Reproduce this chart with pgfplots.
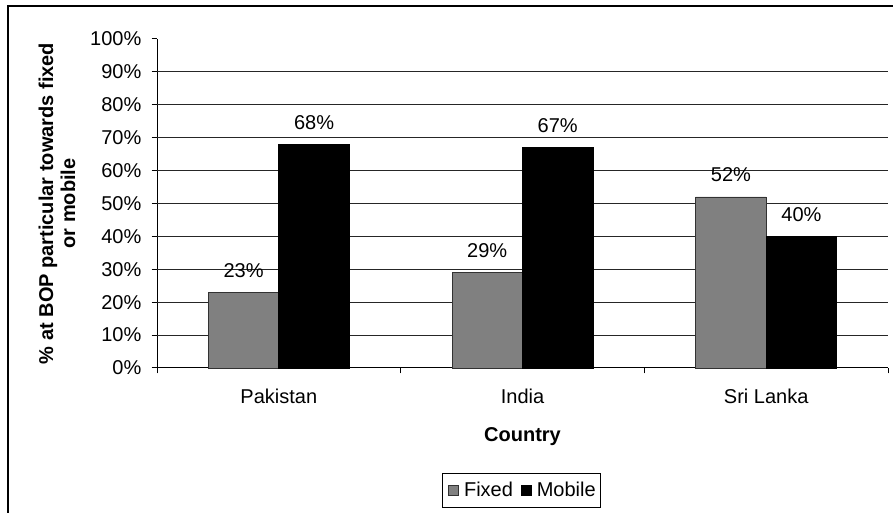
\documentclass[border=0pt]{standalone}
\usepackage{fontspec}
\setmainfont{Liberation Sans}
\usepackage{pgfplots}
\pgfplotsset{compat=1.18}
\definecolor{fixedgray}{RGB}{128,128,128}
\definecolor{edgegray}{RGB}{50,50,50}

\begin{document}
\fontsize{20}{22}\selectfont
\begin{tikzpicture}[x=1pt,y=1pt]
\useasboundingbox (0,0) rectangle (893,513);
% outer chart frame
\draw[line width=2pt] (8,0) -- (8,507) -- (893,507);
\begin{axis}[
  at={(157pt,145pt)}, anchor=south west,
  scale only axis, width=731pt, height=329pt,
  xmin=-0.5, xmax=2.5, ymin=0, ymax=100,
  ybar=0pt, bar width=70.5pt,
  axis x line*=bottom, axis y line*=left,
  axis line style={-, line width=1pt, black},
  tick align=outside, major tick length=5.5pt,
  tick style={line width=1pt, black},
  xtick={-0.5,0.5,1.5,2.5}, xticklabels={},
  extra x ticks={0,1,2},
  extra x tick labels={Pakistan,India,Sri Lanka},
  extra x tick style={major tick length=0pt,
    xticklabel style={anchor=base, inner sep=0pt, yshift=-36pt}},
  ytick={0,10,...,100},
  yticklabel={\pgfmathprintnumber[assume math mode=true]{\tick}\%},
  yticklabel style={anchor=east, inner sep=0pt, xshift=-10pt},
  extra y ticks={10,20,...,90},
  extra y tick labels={},
  extra y tick style={major tick length=0pt, ymajorgrids=true,
    major grid style={line width=1pt, black!85}},
  xlabel={\bfseries Country},
  xlabel style={at={(0.5,-0.224)}, anchor=base, inner sep=0pt},
  ylabel={\bfseries \% at BOP particular towards fixed\\ \bfseries or mobile},
  ylabel style={at={(-0.1368,0.5)}, anchor=center, align=center,
    rotate=0, inner sep=0pt},
  nodes near coords={\pgfmathprintnumber[assume math mode=true]{\pgfplotspointmeta}\%},
  nodes near coords style={anchor=base, inner sep=0pt, yshift=15pt, text=black},
  legend columns=2,
  legend image code/.code={\path (0pt,0pt) (16pt,0pt);
    \draw[#1] (3pt,-5pt) rectangle (13pt,5pt);},
  legend style={at={(0.4986,-0.3717)}, anchor=center, draw=black,
    line width=1pt, inner xsep=3pt, inner ysep=6.5pt,
    /tikz/every even column/.append style={column sep=3pt}},
  clip=false,
]
\addplot[fill=fixedgray, draw=edgegray, line width=0.8pt]
  coordinates {(0,23) (1,29) (2,52)};
\addplot[fill=black, draw=black, line width=0.8pt]
  coordinates {(0,68) (1,67) (2,40)};
\legend{Fixed, Mobile}
\end{axis}
\end{tikzpicture}
\end{document}
